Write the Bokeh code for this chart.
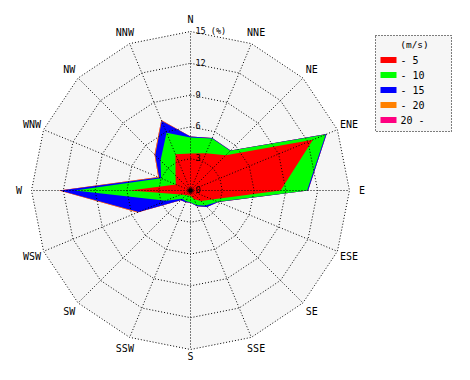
import numpy as np
from bokeh.plotting import figure
from bokeh.models import Range1d
from bokeh.core.properties import value
from bokeh.embed import file_html
from bokeh.resources import INLINE

# ---- data (percent of time, per speed class) ----
directions = ["N", "NNE", "NE", "ENE", "E", "ESE", "SE", "SSE",
              "S", "SSW", "SW", "WSW", "W", "WNW", "NW", "NNW"]
speed_0_5 = [3.5, 3.8, 4.7, 12.5, 8.5, 2.2, 1.4, 0.9, 0.5, 0.5, 0.6, 1.0, 5.7, 1.5, 2.0, 3.7]
speed_5_10 = [1.5, 1.5, 0.6, 1.3, 2.5, 0.6, 0.6, 0.6, 0.6, 0.6, 0.5, 1.5, 5.2, 1.5, 2.0, 2.2]
speed_10_15 = [0.1, 0.05, 0.05, 0.1, 0.1, 0.05, 0.2, 0.1, 0.05, 0.1, 0.2, 2.8, 1.4, 0.2, 0.7, 1.2]
speed_15_20 = [0.0, 0.0, 0.0, 0.0, 0.0, 0.0, 0.0, 0.0, 0.0, 0.0, 0.0, 0.1, 0.1, 0.1, 0.1, 0.1]
speed_20_up = [0.0] * 16
class_labels = ["- 5", "- 10", "- 15", "- 20", "20 -"]
class_colors = ["#ff0000", "#00ff00", "#0000ff", "#ff8000", "#ff0080"]
ring_values = [0, 3, 6, 9, 12, 15]
ring_labels = ["0", "3", "6", "9", "12", "15 (%)"]
legend_title = "(m/s)"

# ---- geometry ----
K = 10.6          # pixels per percent
W, H = 454, 364
CXP, CYP = 190, 190   # centre in figure pixels
RMAX = 15

def fx(px):  # figure pixel -> data x
    return (px - CXP) / K

def fy(py):  # figure pixel -> data y
    return (CYP - py) / K

p = figure(width=W, height=H, output_backend="svg", toolbar_location=None,
           x_range=Range1d(fx(0), fx(W)), y_range=Range1d(fy(H), fy(0)),
           x_axis_type=None, y_axis_type=None, min_border=0,
           background_fill_color="white", border_fill_color="white")
p.outline_line_color = None
p.grid.visible = False

n = len(directions)
theta = np.pi / 2 - np.arange(n) * 2 * np.pi / n
ct, st = np.cos(theta), np.sin(theta)

# background polygon
p.patch(list(RMAX * ct), list(RMAX * st), fill_color="#f6f6f6", line_color=None)

# stacked layers
layers = [speed_0_5, speed_5_10, speed_10_15, speed_15_20, speed_20_up]
cum = np.cumsum(np.array(layers, dtype=float), axis=0)
for i in range(len(layers) - 1, -1, -1):
    r = cum[i]
    p.patch(list(r * ct), list(r * st), fill_color=class_colors[i],
            line_color=None)

# grid rings
for rv in ring_values[1:]:
    xs = list(rv * np.append(ct, ct[0]))
    ys = list(rv * np.append(st, st[0]))
    p.line(xs, ys, line_color="black", line_width=1, line_dash="1 2")
# spokes
for j in range(n):
    p.line([0, RMAX * ct[j]], [0, RMAX * st[j]], line_color="black",
           line_width=1, line_dash="1 2")
p.scatter([0], [0], size=4, color="black")

# ring labels
p.text(x=[0] * len(ring_values), y=ring_values, text=ring_labels,
       text_font=value("DejaVu Sans Mono"), text_font_size="8.5px",
       text_align="left", text_baseline="alphabetic", x_offset=5, y_offset=-1,
       text_color="black")

# direction labels (S pulled in slightly so that it stays inside the canvas)
rl = np.full(n, 171.5 / K)
rl[directions.index("S")] = 166.0 / K
p.text(x=list(rl * ct), y=list(rl * st), text=directions,
       text_font=value("DejaVu Sans Mono"), text_font_size="10px",
       text_align="center", text_baseline="middle", text_color="black")

# legend (manual)
lx0, lx1, ly0, ly1 = 375, 451, 35, 131
p.patch([fx(lx0), fx(lx1), fx(lx1), fx(lx0)], [fy(ly0), fy(ly0), fy(ly1), fy(ly1)],
        fill_color="#f6f6f6", line_color="black", line_width=1, line_dash="1 2")
p.text(x=[fx(414)], y=[fy(43.5)], text=[legend_title],
       text_font=value("DejaVu Sans Mono"), text_font_size="9.5px",
       text_align="center", text_baseline="middle", text_color="black")
rows_y = [fy(59.5 + 15 * i) for i in range(len(class_labels))]
p.rect(x=[fx(388)] * len(class_labels), y=rows_y, width=16, height=6,
       width_units="screen", height_units="screen",
       fill_color=class_colors, line_color=None)
p.text(x=[fx(400)] * len(class_labels), y=rows_y, text=class_labels,
       text_font=value("DejaVu Sans Mono"), text_font_size="10px",
       text_align="left", text_baseline="middle", text_color="black")

open("out.html", "w").write(file_html(p, INLINE))
